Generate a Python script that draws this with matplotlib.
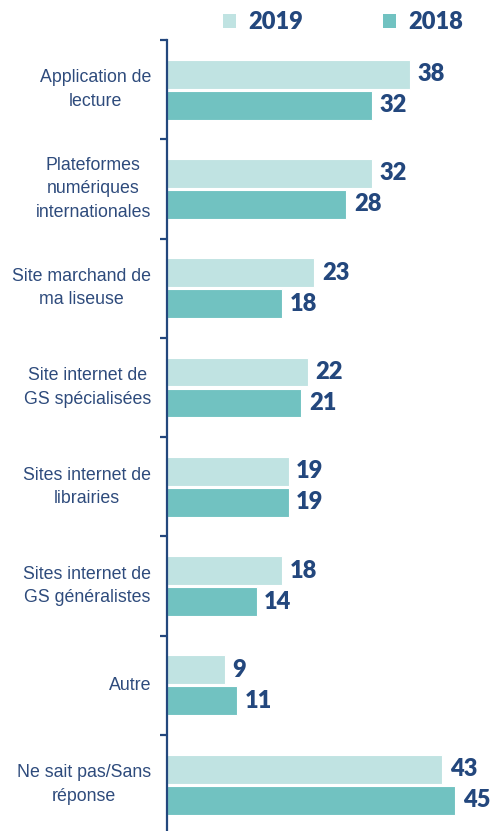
import matplotlib
matplotlib.use("Agg")
import matplotlib.pyplot as plt
from matplotlib.patches import Patch
import numpy as np

categories = ["Application de\nlecture", "Plateformes\nnumériques\ninternationales",
              "Site marchand de\nma liseuse", "Site internet de\nGS spécialisées",
              "Sites internet de\nlibrairies", "Sites internet de\nGS généralistes",
              "Autre", "Ne sait pas/Sans\nréponse"]
v2019 = [38, 32, 23, 22, 19, 18, 9, 43]
v2018 = [32, 28, 18, 21, 19, 14, 11, 45]
series_names = ["2019", "2018"]

c2019 = "#C0E3E2"
c2018 = "#71C2C1"
navy = "#23477D"
label_col = "#2E4B7C"

W, H = 491, 831
fig = plt.figure(figsize=(W / 100, H / 100), dpi=100)
top_px, bot_px, left_px = 40, 834.3, 167
ax = fig.add_axes([left_px / W, 1 - bot_px / H, 320 / W, (bot_px - top_px) / H])

y = np.arange(len(categories))
bh = 0.29
off = 0.156
b1 = ax.barh(y - off, v2019, height=bh, color=c2019, edgecolor="white", linewidth=0.8)
b2 = ax.barh(y + off, v2018, height=bh, color=c2018, edgecolor="white", linewidth=0.8)

ax.set_xlim(0, 50)
ax.set_ylim(len(categories) - 0.5, -0.5)

for bars, vals in ((b1, v2019), (b2, v2018)):
    for rect, v in zip(bars, vals):
        ax.text(v + 1.2, rect.get_y() + rect.get_height() / 2, str(v),
                ha="left", va="center", fontsize=17, fontweight="heavy",
                color=navy, family="Lato")

for i, c in enumerate(categories):
    ax.text(-2.5, i, c, ha="right", va="center", multialignment="center",
            fontsize=12.8, color=label_col, family="Liberation Sans", linespacing=1.5)

for s in ["top", "right", "bottom"]:
    ax.spines[s].set_visible(False)
ax.spines["left"].set_color(navy)
ax.spines["left"].set_linewidth(1.6)
ax.set_xticks([])
ax.set_yticks([])
ax.set_yticks(np.arange(-0.5, len(categories) + 0.5, 1), minor=True)
ax.tick_params(axis="y", which="minor", length=5, width=1.6, color=navy,
               direction="out", labelleft=False)

handles = [Patch(facecolor=c2019, edgecolor="none"), Patch(facecolor=c2018, edgecolor="none")]
leg = fig.legend(handles, series_names, ncol=2, frameon=False,
                 loc="center", bbox_to_anchor=(343 / W, 1 - 22 / H),
                 handlelength=0.55, handleheight=0.55, handletextpad=0.5,
                 columnspacing=3.4,
                 prop={"family": "Lato", "weight": "heavy", "size": 17})
for t in leg.get_texts():
    t.set_color(navy)

fig.savefig("out.png", dpi=100)
